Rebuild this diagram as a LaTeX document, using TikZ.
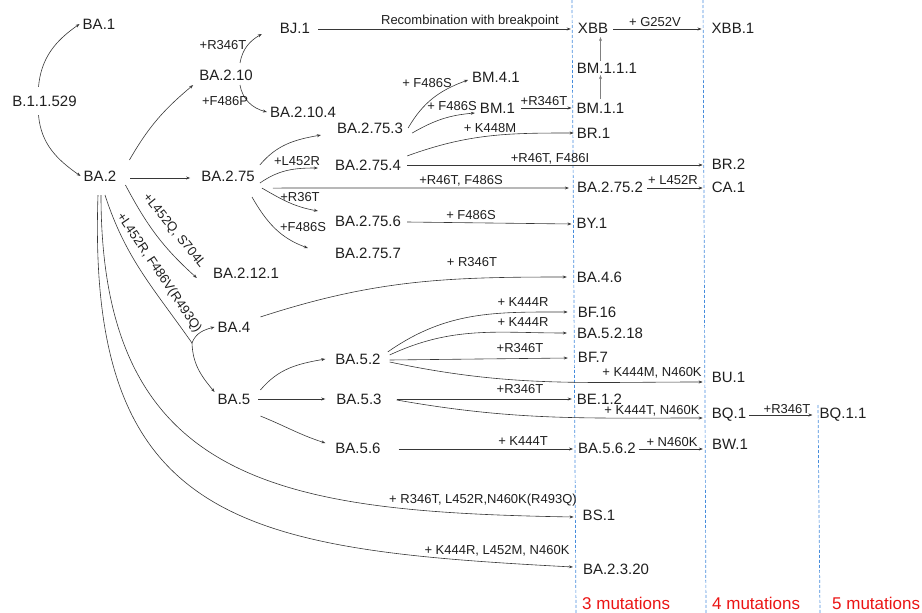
\documentclass[tikz,border=0pt]{standalone}
\usepackage{fontspec}
\setmainfont{Liberation Sans}
\usepackage{tikz}
\usetikzlibrary{arrows.meta,positioning,calc}
\definecolor{guideblue}{RGB}{70,140,220}
\definecolor{countred}{RGB}{235,20,20}
\definecolor{linkgray}{RGB}{55,55,55}

\begin{document}
\begin{tikzpicture}[x=1pt,y=1pt,
    lineage/.style={font=\fontsize{15}{18}\selectfont, text=black!88, inner xsep=3pt, inner ysep=1.5pt, text height=10.7pt, text depth=0pt},
    mut/.style={font=\fontsize{13}{15}\selectfont, text=black!88, inner sep=0pt, text height=9.3pt, text depth=0pt},
    link/.style={-{Stealth[length=4pt,width=3pt]}, draw=linkgray, line width=0.6pt},
    guide/.style={guideblue, dashed, dash pattern=on 3pt off 2pt, line width=0.7pt},
    count/.style={font=\fontsize{17}{20}\selectfont, text=countred, inner sep=0pt, anchor=west}]
    \useasboundingbox (0,0) rectangle (922,-613);

    % Mutation count guides
    \draw[guide] (572,0) -- (576,-613);
    \draw[guide] (703,0) -- (706,-613);
    \draw[guide] (818,-405) -- (820,-613);
    \node[count] (n3) at (582,-603) {3 mutations};
    \node[count] (n4) at (712,-603) {4 mutations};
    \node[count] (n5) at (832,-603) {5 mutations};

    % Lineages (left part)
    \node[lineage] (b529) at (44.5,-101) {B.1.1.529};
    \node[lineage] (ba1) at (99,-24) {BA.1};
    \node[lineage] (ba2) at (100,-176) {BA.2};
    \node[lineage] (ba210) at (226,-75) {BA.2.10};
    \node[lineage] (bj1) at (295,-28) {BJ.1};
    \node[lineage] (ba2104) at (303,-112) {BA.2.10.4};
    \node[lineage] (ba275) at (228,-176) {BA.2.75};
    \node[lineage] (ba2753) at (370,-128) {BA.2.75.3};
    \node[lineage] (ba2754) at (368,-165) {BA.2.75.4};
    \node[lineage] (ba2756) at (368,-221) {BA.2.75.6};
    \node[lineage] (ba2757) at (368,-253) {BA.2.75.7};
    \node[lineage] (ba2121) at (246,-273) {BA.2.12.1};
    \node[lineage] (ba4) at (234,-327) {BA.4};
    \node[lineage] (ba5) at (234,-399) {BA.5};
    \node[lineage] (ba52) at (358,-359) {BA.5.2};
    \node[lineage] (ba53) at (359,-399) {BA.5.3};
    \node[lineage] (ba56) at (358,-448) {BA.5.6};
    \node[lineage] (bm41) at (496,-77) {BM.4.1};
    \node[lineage] (bm1) at (497.5,-108) {BM.1};

    % Lineages (3, 4 and 5 mutations)
    \node[lineage] (xbb) at (593,-28) {XBB};
    \node[lineage] (xbb1) at (733,-28) {XBB.1};
    \node[lineage] (bm111) at (607,-68) {BM.1.1.1};
    \node[lineage] (bm11) at (600.5,-108) {BM.1.1};
    \node[lineage] (br1) at (593.5,-133) {BR.1};
    \node[lineage] (br2) at (728.5,-164) {BR.2};
    \node[lineage] (ba2752) at (610,-187) {BA.2.75.2};
    \node[lineage] (ca1) at (728.5,-187) {CA.1};
    \node[lineage] (by1) at (592,-223) {BY.1};
    \node[lineage] (ba46) at (599.5,-277) {BA.4.6};
    \node[lineage] (bf16) at (597,-312) {BF.16};
    \node[lineage] (ba5218) at (610,-333) {BA.5.2.18};
    \node[lineage] (bf7) at (593,-357) {BF.7};
    \node[lineage] (bu1) at (728.5,-377) {BU.1};
    \node[lineage] (be12) at (599.5,-399) {BE.1.2};
    \node[lineage] (bq1) at (729,-413) {BQ.1};
    \node[lineage] (bq11) at (843,-413) {BQ.1.1};
    \node[lineage] (ba562) at (607,-448) {BA.5.6.2};
    \node[lineage] (bw1) at (730,-444) {BW.1};
    \node[lineage] (bs1) at (599,-515) {BS.1};
    \node[lineage] (ba2320) at (616,-569) {BA.2.3.20};

    % Early branches
    \draw[link] ([xshift=-6pt,yshift=7pt]b529.north) to[out=85,in=215] (ba1.west);
    \draw[link] ([xshift=-6pt,yshift=-7pt]b529.south) to[out=-85,in=145] (ba2.west);
    \draw[link] ([xshift=10pt,yshift=9pt]ba2.north east) to[out=60,in=220] ([xshift=-3pt,yshift=-3pt]ba210.south west);
    \draw[link] ([xshift=11pt,yshift=-2pt]ba2.east) -- ([xshift=-8pt,yshift=-2pt]ba275.west);
    \draw[link] ([xshift=14pt,yshift=5pt]ba210.north) to[out=80,in=210] ([xshift=-15pt,yshift=-6pt]bj1.west);
    \draw[link] ([xshift=14pt,yshift=-3pt]ba210.south) to[out=-80,in=165] (ba2104.west);
    \node[mut] (m-bj1) at (223,-45) {+R346T};
    \node[mut] (m-ba2104) at (225,-101) {+F486P};

    % Recombinant XBB
    \draw[link] ([xshift=5pt,yshift=-1pt]bj1.east) -- ([xshift=-4pt,yshift=-1pt]xbb.west);
    \draw[link] ([xshift=2pt,yshift=-1pt]xbb.east) -- ([xshift=-7pt,yshift=-1pt]xbb1.west);
    \draw[link, draw=gray] ([yshift=2pt]bm11.north) -- (bm11.north |- bm111.south);
    \draw[link, draw=gray, shorten >=2pt] (bm11.north |- bm111.north) -- (bm11.north |- xbb.south);
    \node[mut] (m-xbb) at (470,-20) {Recombination with breakpoint};
    \node[mut] (m-xbb1) at (655,-22) {+ G252V};

    % BA.2.75 branches
    \draw[link] ([xshift=2pt,yshift=4pt]ba275.north east) to[out=50,in=190] ([xshift=-13pt]ba2753.south west);
    \draw[link] ([xshift=2pt]ba275.south east) to[out=35,in=180] ([xshift=-14pt,yshift=-3pt]ba2754.west);
    \draw[link] ([xshift=15pt,yshift=-5pt]ba275.south east) -- ([xshift=-5pt,yshift=-1pt]ba2752.west);
    \draw[link] ([xshift=4pt,yshift=-5pt]ba275.south east) to[out=-30,in=170] ([xshift=-14pt,yshift=3pt]ba2756.north west);
    \draw[link] ([xshift=24pt,yshift=-14pt]ba275.south) to[out=-60,in=160] ([xshift=-24pt,yshift=5pt]ba2757.west);
    \node[mut] (m-ba2754) at (297,-161) {+L452R};
    \node[mut] (m-ba2752) at (461,-180) {+R46T, F486S};
    \node[mut] (m-ba2756) at (300,-197) {+R36T};
    \node[mut] (m-ba2757) at (303,-227) {+F486S};

    \draw[link] ([xshift=2pt]ba2753.east) to[out=60,in=200] ([xshift=-1pt,yshift=-3pt]bm41.west);
    \draw[link] ([xshift=6pt,yshift=2pt]ba2753.south east) to[out=30,in=185] ([xshift=-2pt,yshift=-5pt]bm1.west);
    \draw[link] ([xshift=3pt]bm1.east) -- ([xshift=-2pt]bm11.west);
    \draw[link] ([xshift=3pt,yshift=2pt]ba2754.north east) to[out=20,in=180] (br1.west);
    \draw[link] ([xshift=3pt]ba2754.east) -- ([xshift=-6pt,yshift=-1pt]br2.west);
    \draw[link] ([xshift=1pt,yshift=-1pt]ba2752.east) -- ([xshift=-6pt,yshift=-1pt]ca1.west);
    \draw[link] ([xshift=3pt,yshift=-1pt]ba2756.east) -- ([xshift=-2pt,yshift=-1pt]by1.west);
    \node[mut] (m-bm41) at (427,-83) {+ F486S};
    \node[mut] (m-bm1) at (452,-106) {+ F486S};
    \node[mut] (m-bm11) at (544,-101) {+R346T};
    \node[mut] (m-br1) at (490,-128) {+ K448M};
    \node[mut] (m-br2) at (550,-158) {+R46T, F486I};
    \node[mut] (m-ca1) at (673,-180) {+ L452R};
    \node[mut] (m-by1) at (471,-215) {+ F486S};

    % BA.2.12.1, BA.4 and BA.5
    \draw[link] ([xshift=6pt,yshift=-2pt]ba2.south east) to[out=-62,in=138] ([xshift=-13pt,yshift=-5pt]ba2121.west);
    \node[mut, rotate=-51] (m-ba2121) at (175,-230) {+L452Q, S704L};
    \coordinate (split) at (192,-343);
    \draw[draw=linkgray, line width=0.6pt] ([xshift=5pt,yshift=-12pt]ba2.south) to[out=-72,in=125] (split);
    \draw[link] (split) to[out=70,in=195] (ba4.west);
    \draw[link] (split) to[out=-88,in=130] (ba5.north west);
    \node[mut, rotate=-56] (m-split) at (160,-272) {+L452R, F486V(R493Q)};

    \draw[link] ([xshift=7pt,yshift=3pt]ba4.north east) to[out=18,in=180] ([xshift=-7pt]ba46.west);
    \node[mut] (m-ba46) at (472,-262) {+ R346T};
    \draw[link] ([xshift=7pt,yshift=2pt]ba5.north east) to[out=50,in=190] ([xshift=-7pt]ba52.west);
    \draw[link] ([xshift=5pt]ba5.east) -- ([xshift=-8pt]ba53.west);
    \draw[link] ([xshift=7pt,yshift=-10pt]ba5.south east) to[out=-22,in=162] ([xshift=-7pt,yshift=5pt]ba56.west);

    % BA.5 sublineages
    \draw[link] ([xshift=4pt]ba52.north east) to[out=35,in=180] ([xshift=-7pt]bf16.west);
    \draw[link] ([xshift=6pt,yshift=-3pt]ba52.north east) to[out=25,in=180] ([xshift=-7pt]ba5218.west);
    \draw[link] ([xshift=6pt,yshift=-1pt]ba52.east) -- ([xshift=-7pt,yshift=-1pt]bf7.west);
    \draw[link] ([xshift=6pt,yshift=-3pt]ba52.east) to[out=-12,in=180] ([xshift=-6pt,yshift=-5pt]bu1.west);
    \node[mut] (m-bf16) at (523,-302) {+ K444R};
    \node[mut] (m-ba5218) at (523,-322) {+ K444R};
    \node[mut] (m-bf7) at (520,-348) {+R346T};
    \node[mut] (m-bu1) at (652,-372) {+ K444M, N460K};

    \draw[link] ([xshift=12pt]ba53.east) -- ([xshift=-2pt]be12.west);
    \draw[link] ([xshift=12pt,yshift=-1pt]ba53.east) to[out=-10,in=180] ([xshift=-6pt,yshift=-5pt]bq1.west);
    \draw[link] ([yshift=-2pt]bq1.east) -- ([xshift=-4pt,yshift=-2pt]bq11.west);
    \node[mut] (m-be12) at (520,-389) {+R346T};
    \node[mut] (m-bq1) at (652,-410) {+ K444T, N460K};
    \node[mut] (m-bq11) at (787,-409) {+R346T};

    \draw[link] ([xshift=15pt,yshift=-1pt]ba56.east) -- ([xshift=-2pt,yshift=-1pt]ba562.west);
    \draw[link] ([yshift=-1pt]ba562.east) -- ([xshift=-6pt,yshift=-5pt]bw1.west);
    \node[mut] (m-ba562) at (523,-441) {+ K444T};
    \node[mut] (m-bw1) at (672,-442) {+ N460K};

    % Long branches from BA.2
    \draw[link] ([xshift=1pt,yshift=-12pt]ba2.south) to[out=-90,in=179,looseness=1.3] ([xshift=-6pt,yshift=-2pt]bs1.west);
    \draw[link] ([xshift=-2pt,yshift=-12pt]ba2.south) to[out=-92,in=177,looseness=1.4] ([xshift=-7pt,yshift=2pt]ba2320.west);
    \node[mut] (m-bs1) at (483,-499) {+ R346T, L452R,N460K(R493Q)};
    \node[mut] (m-ba2320) at (497,-550) {+ K444R, L452M, N460K};
\end{tikzpicture}
\end{document}
